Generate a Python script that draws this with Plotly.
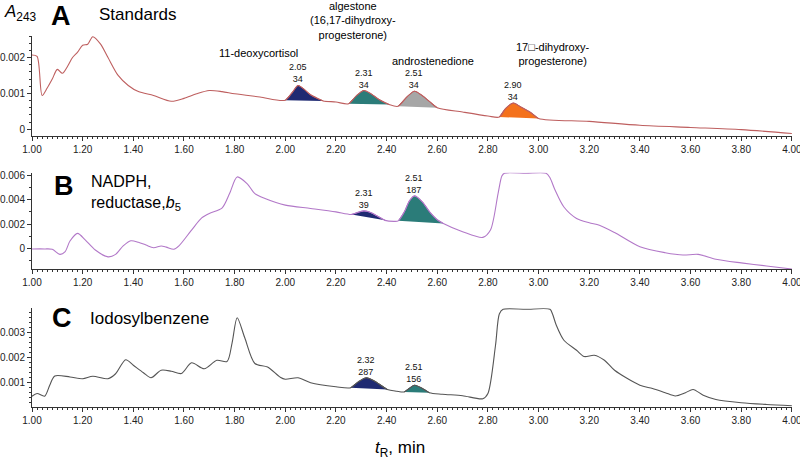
import plotly.graph_objects as go
from plotly.subplots import make_subplots

# ---- values (retention time in min, A243) ----
TIME_A = [1.00, 1.02, 1.04, 1.06, 1.08, 1.10, 1.12, 1.14, 1.16, 1.18, 1.20, 1.22, 1.24, 1.27,
          1.30, 1.34, 1.38, 1.42, 1.48, 1.55, 1.60, 1.65, 1.70, 1.75, 1.80, 1.90, 2.00, 2.03,
          2.05, 2.07, 2.10, 2.13, 2.15, 2.20, 2.25, 2.28, 2.31, 2.34, 2.37, 2.41, 2.445, 2.48,
          2.51, 2.54, 2.57, 2.60, 2.70, 2.80, 2.845, 2.87, 2.90, 2.93, 2.97, 3.00, 3.20, 3.40,
          3.60, 3.80, 4.00]
ABS_A = [0.00207, 0.00203, 0.00094, 0.00115, 0.00140, 0.00167, 0.00156, 0.00175, 0.00200,
         0.00215, 0.00234, 0.00237, 0.00258, 0.00238, 0.00200, 0.00150, 0.00122, 0.00105,
         0.00094, 0.00078, 0.00086, 0.00099, 0.00108, 0.00105, 0.00099, 0.00090, 0.00081,
         0.00105, 0.00122, 0.00114, 0.00096, 0.00085, 0.00079, 0.00076, 0.00071, 0.00093,
         0.00108, 0.00098, 0.00083, 0.00069, 0.00064, 0.00090, 0.00106, 0.00094, 0.00077,
         0.00060, 0.00048, 0.00037, 0.00034, 0.00058, 0.00073, 0.00062, 0.00046, 0.00030,
         0.00022, 0.00011, 0.00005, -0.00001, -0.00012]

TIME_B = [1.00, 1.05, 1.08, 1.11, 1.13, 1.15, 1.18, 1.21, 1.25, 1.30, 1.33, 1.36, 1.39, 1.42,
          1.45, 1.48, 1.51, 1.53, 1.56, 1.58, 1.63, 1.67, 1.70, 1.75, 1.78, 1.81, 1.85, 1.88,
          1.92, 2.00, 2.10, 2.20, 2.262, 2.29, 2.31, 2.33, 2.36, 2.394, 2.43, 2.446, 2.47,
          2.49, 2.51, 2.54, 2.57, 2.60, 2.624, 2.70, 2.78, 2.81, 2.84, 2.855, 2.865, 2.95,
          3.03, 3.045, 3.065, 3.10, 3.15, 3.20, 3.24, 3.30, 3.40, 3.50, 3.57, 3.63, 3.70,
          3.80, 3.90, 4.00]
ABS_B = [-0.00005, -0.00005, -0.00008, -0.00050, -0.00030, 0.00060, 0.00123, 0.00070,
         -0.00014, -0.00070, -0.00050, 0.00020, 0.00062, 0.00050, 0.00027, 0.00005, 0.00019,
         0.00010, -0.00008, 0.00020, 0.00150, 0.00250, 0.00287, 0.00330, 0.00450, 0.00587,
         0.00530, 0.00450, 0.00410, 0.00355, 0.00328, 0.00300, 0.00279, 0.00298, 0.00308,
         0.00300, 0.00270, 0.00230, 0.00222, 0.00226, 0.00300, 0.00390, 0.00431, 0.00385,
         0.00300, 0.00235, 0.00205, 0.00137, 0.00090, 0.00150, 0.00450, 0.00595, 0.00618,
         0.00618, 0.00618, 0.00580, 0.00480, 0.00340, 0.00246, 0.00210, 0.00190, 0.00130,
         0.00013, -0.00036, -0.00055, -0.00050, -0.00090, -0.00120, -0.00145, -0.00170]

TIME_C = [1.00, 1.02, 1.05, 1.07, 1.09, 1.15, 1.20, 1.24, 1.30, 1.33, 1.37, 1.40, 1.44, 1.47,
          1.51, 1.55, 1.59, 1.63, 1.68, 1.73, 1.77, 1.79, 1.81, 1.84, 1.88, 1.93, 1.98, 2.00,
          2.05, 2.10, 2.20, 2.258, 2.29, 2.32, 2.35, 2.403, 2.44, 2.469, 2.49, 2.51, 2.54,
          2.569, 2.62, 2.70, 2.78, 2.80, 2.83, 2.845, 2.86, 2.95, 3.045, 3.055, 3.07, 3.10,
          3.15, 3.18, 3.22, 3.26, 3.30, 3.40, 3.45, 3.50, 3.54, 3.58, 3.61, 3.65, 3.70, 3.80,
          3.90, 4.00]
ABS_C = [0.00046, 0.00057, 0.00046, 0.00090, 0.00127, 0.00123, 0.00116, 0.00126, 0.00116,
         0.00136, 0.00192, 0.00170, 0.00140, 0.00120, 0.00150, 0.00146, 0.00137, 0.00180,
         0.00156, 0.00190, 0.00185, 0.00260, 0.00360, 0.00280, 0.00177, 0.00163, 0.00122,
         0.00114, 0.00120, 0.00100, 0.00084, 0.00080, 0.00105, 0.00120, 0.00108, 0.00073,
         0.00066, 0.00063, 0.00078, 0.00090, 0.00078, 0.00060, 0.00054, 0.00048, 0.00036,
         0.00057, 0.00250, 0.00375, 0.00394, 0.00394, 0.00394, 0.00375, 0.00330, 0.00270,
         0.00230, 0.00205, 0.00210, 0.00190, 0.00150, 0.00090, 0.00077, 0.00060, 0.00047,
         0.00060, 0.00073, 0.00050, 0.00033, 0.00020, 0.00013, 0.00008]

# integrated peaks: start / end of integration, labelled retention time, area
PEAK_START_A = [2.00, 2.25, 2.445, 2.845]
PEAK_END_A = [2.15, 2.41, 2.60, 3.00]
PEAK_RT_A = ["2.05", "2.31", "2.51", "2.90"]
PEAK_AREA_A = ["34", "34", "34", "34"]

PEAK_START_B = [2.262, 2.446]
PEAK_END_B = [2.394, 2.624]
PEAK_RT_B = ["2.31", "2.51"]
PEAK_AREA_B = ["39", "187"]

PEAK_START_C = [2.258, 2.469]
PEAK_END_C = [2.403, 2.569]
PEAK_RT_C = ["2.32", "2.51"]
PEAK_AREA_C = ["287", "156"]

# ---- styling ----
W, H = 800, 461
FONT = "Liberation Sans, Arial, Helvetica, sans-serif"
AXIS_COLOR = "#333333"
NAVY, TEAL, GREY, ORANGE = "#1f2a72", "#2b7c79", "#a6a6a6", "#f4711c"

panels = [
    dict(t=TIME_A, a=ABS_A, start=PEAK_START_A, end=PEAK_END_A, rt=PEAK_RT_A, area=PEAK_AREA_A,
         line="#be5f5f", fills=[NAVY, TEAL, GREY, ORANGE],
         dom=(135.7, 36), yr=[-0.00018, 0.00260], dtick=0.001, minor=0.0002),
    dict(t=TIME_B, a=ABS_B, start=PEAK_START_B, end=PEAK_END_B, rt=PEAK_RT_B, area=PEAK_AREA_B,
         line="#b278c8", fills=[NAVY, TEAL],
         dom=(269, 172.7), yr=[-0.00170, 0.00622], dtick=0.002, minor=0.001),
    dict(t=TIME_C, a=ABS_C, start=PEAK_START_C, end=PEAK_END_C, rt=PEAK_RT_C, area=PEAK_AREA_C,
         line="#555555", fills=[NAVY, TEAL],
         dom=(406.7, 308.3), yr=[0.00004, 0.00398], dtick=0.001, minor=0.0002),
]

fig = make_subplots(rows=3, cols=1)

for i, p in enumerate(panels, start=1):
    # filled integration areas, closed by a straight baseline
    for s, e, rt, ar, col in zip(p["start"], p["end"], p["rt"], p["area"], p["fills"]):
        seg = [(t, a) for t, a in zip(p["t"], p["a"]) if s - 1e-9 <= t <= e + 1e-9]
        fig.add_trace(go.Scatter(
            x=[q[0] for q in seg], y=[q[1] for q in seg],
            mode="lines", fill="toself", fillcolor=col,
            line=dict(color=p["line"], width=1, shape="spline", smoothing=0.8),
            hoverinfo="skip", showlegend=False,
        ), row=i, col=1)
        top = max(q[1] for q in seg)
        fig.add_annotation(
            x=float(rt), y=top, xref=f"x{i}" if i > 1 else "x", yref=f"y{i}" if i > 1 else "y",
            text=f"{rt}<br>{ar}", showarrow=False, yanchor="bottom", yshift=-1,
            font=dict(family=FONT, size=9, color="#111"),
        )

    fig.add_trace(go.Scatter(
        x=p["t"], y=p["a"], mode="lines",
        line=dict(color=p["line"], width=1.1, shape="spline", smoothing=0.8),
        showlegend=False,
    ), row=i, col=1)

    bottom, top_px = p["dom"]
    fig.update_xaxes(
        domain=[32 / W, 792 / W], range=[1.0, 4.0005], dtick=0.2, tick0=1.0, tickformat=".2f",
        showline=True, linecolor=AXIS_COLOR, linewidth=1, ticks="outside", ticklen=4,
        tickcolor=AXIS_COLOR, showgrid=False, zeroline=False, automargin=False,
        ticklabeloverflow="allow",
        tickfont=dict(family=FONT, size=10, color="#222"),
        minor=dict(dtick=0.02, ticks="outside", ticklen=2, tickcolor=AXIS_COLOR, showgrid=False),
        row=i, col=1,
    )
    fig.update_yaxes(
        domain=[1 - bottom / H, 1 - top_px / H], range=p["yr"], dtick=p["dtick"], tick0=0,
        showline=True, linecolor=AXIS_COLOR, linewidth=1, ticks="outside", ticklen=4,
        tickcolor=AXIS_COLOR, showgrid=False, zeroline=False, automargin=False,
        ticklabeloverflow="allow",
        tickfont=dict(family=FONT, size=10, color="#222"),
        minor=dict(dtick=p["minor"], ticks="outside", ticklen=2, tickcolor=AXIS_COLOR, showgrid=False),
        row=i, col=1,
    )


def label(text, x, y, size, xanchor="left", bold=False):
    fig.add_annotation(
        x=x / W, y=1 - y / H, xref="paper", yref="paper", text=f"<b>{text}</b>" if bold else text,
        showarrow=False, xanchor=xanchor, yanchor="middle", align="center" if xanchor == "center" else "left",
        font=dict(family=FONT, size=size, color="#000"),
    )


# panel headers
label("<i>A</i><sub>243</sub>", 2, 13, 17)
label("A", 61, 16, 27, xanchor="center", bold=True)
label("Standards", 97, 14, 17)
label("B", 64, 186, 27, xanchor="center", bold=True)
label("NADPH,<br>reductase,<i>b</i><sub>5</sub>", 89, 193, 16)
label("C", 62, 318, 27, xanchor="center", bold=True)
label("Iodosylbenzene", 88, 318, 17)

# compound names over the standards
label("11-deoxycortisol", 258, 53, 11, xanchor="center")
label("algestone<br>(16,17-dihydroxy-<br>progesterone)", 353, 21, 11, xanchor="center")
label("androstenedione", 433, 61, 11, xanchor="center")
label("17\u25a1-dihydroxy-<br>progesterone)", 553, 54, 11, xanchor="center")

# shared x title
label("<i>t</i><sub>R</sub>, min", 400, 449, 17, xanchor="center")

fig.update_layout(
    template="none",
    width=W, height=H,
    margin=dict(l=0, r=0, t=0, b=0),
    paper_bgcolor="white", plot_bgcolor="white",
    font=dict(family=FONT, color="#000"),
    showlegend=False,
)

fig.write_html(
    "out.html",
    config={"displayModeBar": False},
    post_script="document.body.style.margin='0';document.body.style.overflow='hidden';",
)
